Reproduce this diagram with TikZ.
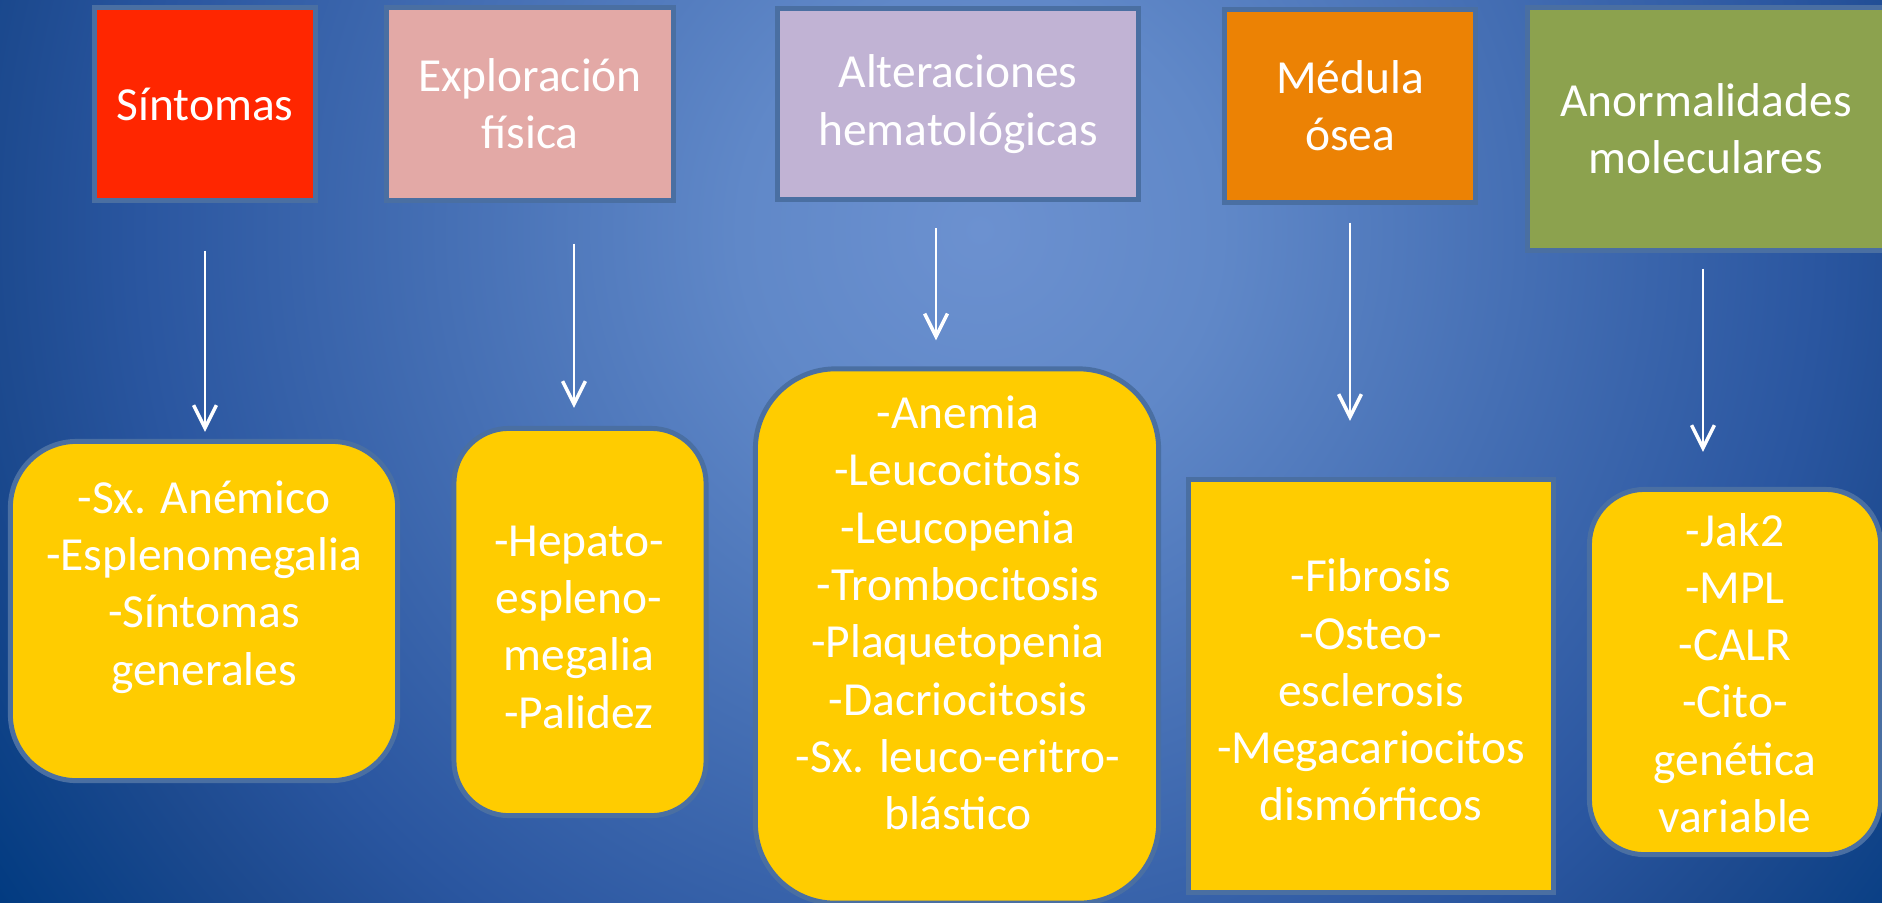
\documentclass[tikz,border=0pt]{standalone}
\usepackage{fontspec}
\setmainfont{Carlito}
\usetikzlibrary{arrows.meta, positioning}

\definecolor{rojo}{HTML}{FF2600}
\definecolor{rosa}{HTML}{E3A9A6}
\definecolor{lila}{HTML}{C1B3D4}
\definecolor{naranja}{HTML}{EC8204}
\definecolor{oliva}{HTML}{8CA24E}
\definecolor{amarillo}{HTML}{FFCC00}
\definecolor{borde}{HTML}{4A6FA2}
\definecolor{fondoA}{HTML}{6C91D0}
\definecolor{fondoB}{HTML}{6088C8}
\definecolor{fondoC}{HTML}{2A56A0}
\definecolor{fondoD}{HTML}{1D4A8F}
\definecolor{fondoE}{HTML}{003A80}

\pgfdeclareradialshading{fondo}{\pgfpoint{0bp}{0bp}}{color(0bp)=(fondoA); color(5bp)=(fondoB); color(17.5bp)=(fondoC); color(20.5bp)=(fondoD); color(25bp)=(fondoE); color(50bp)=(fondoE)}

\begin{document}
\begin{tikzpicture}[x=0.01cm,y=-0.01cm,
                    every node/.style={text=white,align=center,font=\fontsize{13.5}{16.3}\selectfont},
                    caja/.style={draw=borde,line width=1.4pt,inner sep=0pt},
                    inf/.style={caja,fill=amarillo,rounded corners=#1},
                    texto/.style={inner sep=0pt},
                    flecha/.style={draw=white,line width=0.65pt,-{Straight Barb[length=6.5pt,width=6.5pt,line width=1pt]}}]

  \useasboundingbox (0,0) rectangle (1882,902);
  \begin{scope}
    \clip (0,0) rectangle (1882,902);
    \shade[shading=fondo] (980,230) circle (12cm);
  \end{scope}

  % cajas de arriba
  \node[caja,fill=rojo,minimum width=2.21cm,minimum height=1.92cm] (sint) at (205,104) {Síntomas};
  \node[caja,fill=rosa,minimum width=2.86cm,minimum height=1.92cm] (expl) at (530,104) {Exploración\\física};
  \node[caja,fill=lila,minimum width=3.61cm,minimum height=1.91cm] (alte) at (958,104) {Alteraciones\\hematológicas};
  \node[caja,fill=naranja,minimum width=2.51cm,minimum height=1.92cm] (medu) at (1350,106) {Médula\\ósea};
  \node[caja,fill=oliva,minimum width=3.57cm,minimum height=2.42cm] (anor) at (1706,129) {Anormalidades\\moleculares};

  % cajas de abajo
  \node[inf=0.66cm,minimum width=3.87cm,minimum height=3.39cm] (inf1) at (204,611) {};
  \node[inf=0.55cm,minimum width=2.52cm,minimum height=3.87cm] (inf2) at (580,622) {};
  \node[inf=0.8cm,minimum width=4.03cm,minimum height=5.34cm] (inf3) at (957,636) {};
  \node[inf=0cm,minimum width=3.65cm,minimum height=4.13cm] (inf4) at (1371,686) {};
  \node[inf=0.55cm,minimum width=2.91cm,minimum height=3.65cm] (inf5) at (1735,672) {};

  \node[texto] (t1) at (204,587) {-Sx. Anémico\\-Esplenomegalia\\-Síntomas\\generales};
  \node[texto] (t2) at (579,627) {-Hepato-\\espleno-\\megalia\\-Palidez};
  \node[texto] (t3) at (958,613) {-Anemia\\-Leucocitosis\\-Leucopenia\\-Trombocitosis\\-Plaquetopenia\\-Dacriocitosis\\-Sx. leuco-eritro-\\blástico};
  \node[texto] (t4) at (1371,690) {-Fibrosis\\-Osteo-\\esclerosis\\-Megacariocitos\\dismórficos};
  \node[texto] (t5) at (1735,673) {-Jak2\\-MPL\\-CALR\\-Cito-\\genética\\variable};

  % flechas
  \coordinate (f2) at (574,0);
  \coordinate (f3) at (936,0);
  \coordinate (f5) at (1703,0);
  \draw[flecha,shorten <=0.48cm,shorten >=0.07cm] (sint.south) -- (sint.south |- inf1.north);
  \draw[flecha,shorten <=0.41cm,shorten >=0.18cm] (expl.south -| f2) -- (inf2.north -| f2);
  \draw[flecha,shorten <=0.26cm,shorten >=0.26cm] (alte.south -| f3) -- (inf3.north -| f3);
  \draw[flecha,shorten <=0.18cm,shorten >=0.56cm] (medu.south) -- (medu.south |- inf4.north);
  \draw[flecha,shorten <=0.16cm,shorten >=0.35cm] (anor.south -| f5) -- (inf5.north -| f5);

\end{tikzpicture}
\end{document}
